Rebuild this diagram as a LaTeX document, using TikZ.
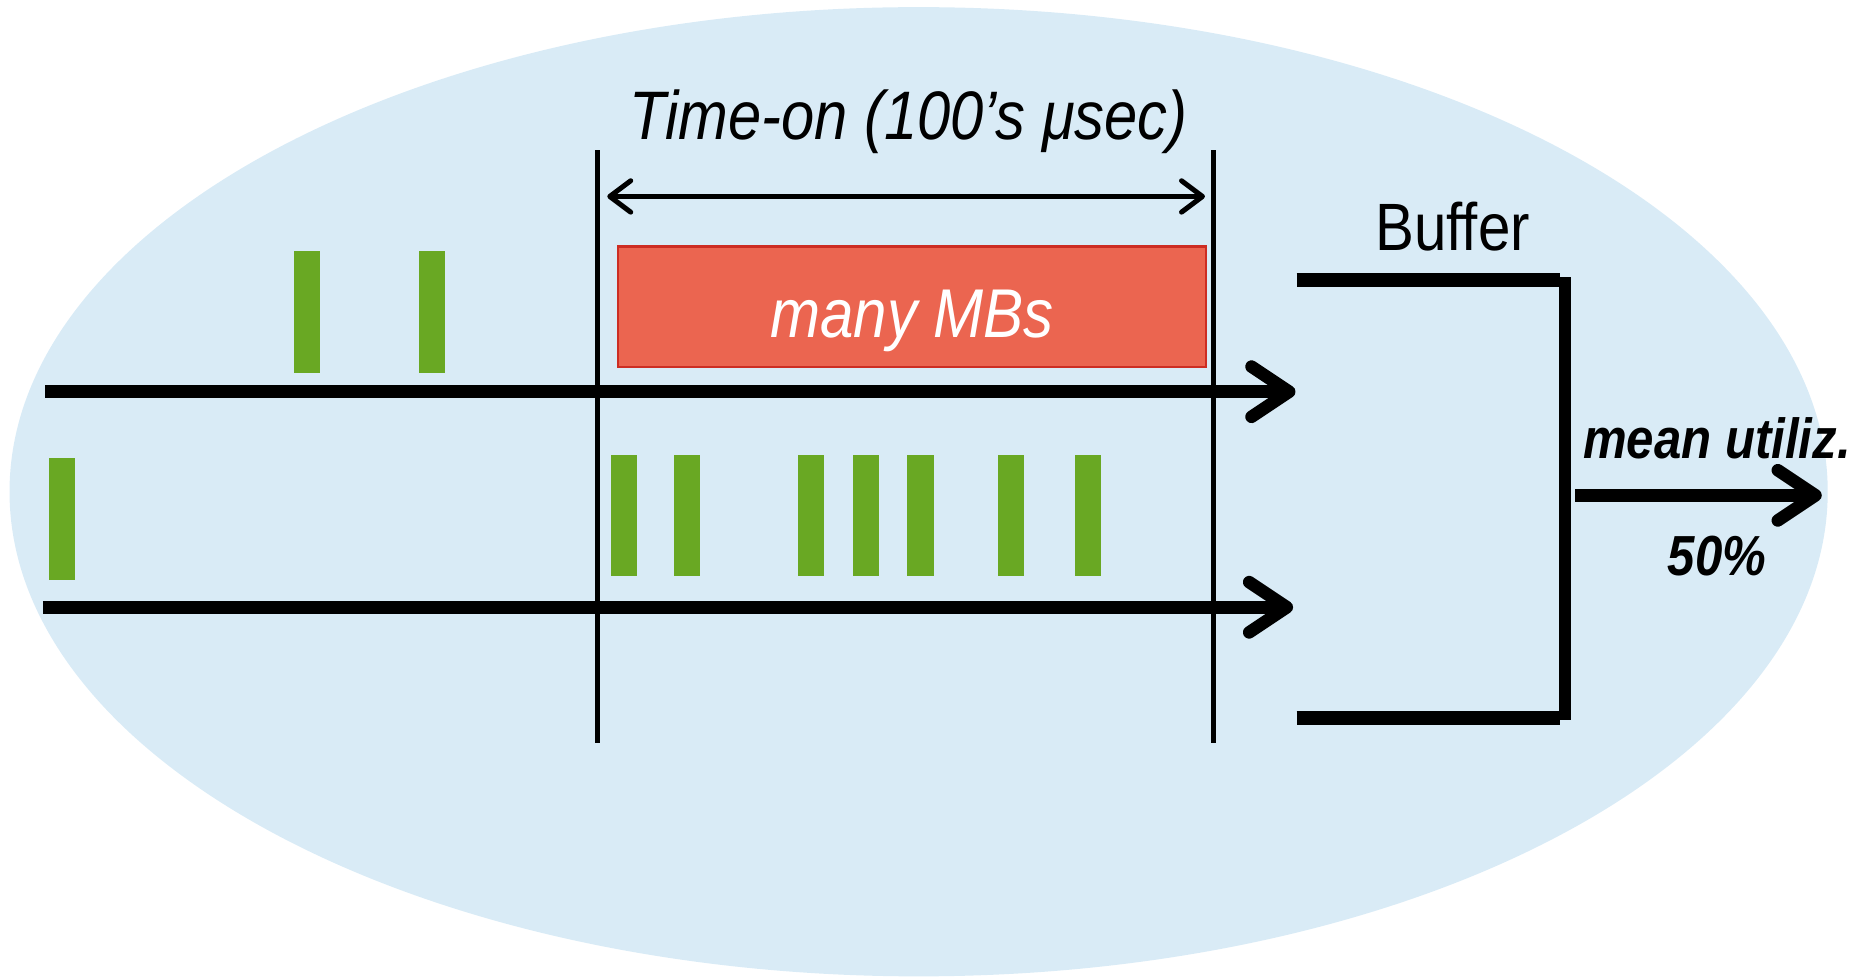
\documentclass[tikz,border=0pt]{standalone}
\usepackage{fontspec}
\setmainfont{Liberation Sans}[FakeStretch=0.87]
\usepackage{tikz}
\usetikzlibrary{arrows.meta, positioning}
\definecolor{bgblue}{RGB}{217,235,246}
\definecolor{pktgreen}{RGB}{105,168,35}
\definecolor{burstred}{RGB}{235,101,80}
\definecolor{burstedge}{RGB}{205,45,35}
\tikzset{
  pkt_bar/.style={rectangle, fill=pktgreen, inner sep=0pt, minimum width=0.22cm, minimum height=1.02cm},
  burst_box/.style={rectangle, draw=burstedge, fill=burstred, line width=0.5pt, inner sep=0pt, minimum width=4.94cm, minimum height=1.01cm, text=white, text depth=0pt, text height=15pt, font=\fontsize{16.5}{18}\selectfont\itshape},
  time_line/.style={-{Straight Barb[length=9pt, width=12pt, round]}, line width=3pt},
  marker_line/.style={-, line width=1.1pt},
  span_arrow/.style={{Straight Barb[length=5pt, width=7.5pt, round]}-{Straight Barb[length=5pt, width=7.5pt, round]}, line width=1.2pt},
  buf_wall/.style={-, line width=3.4pt},
  title_text/.style={font=\fontsize{16.4}{18}\selectfont\itshape},
  buf_text/.style={font=\fontsize{16}{18}\selectfont},
  util_text/.style={font=\fontsize{13.5}{15}\selectfont\bfseries\itshape}
}

\begin{document}
\begin{tikzpicture}
  \useasboundingbox (0,0) rectangle (15.68,8.20);

  % --- 1. Background ---
  \fill[bgblue] (7.715,4.07) ellipse [x radius=7.635cm, y radius=4.07cm];

  % --- 2. Time-on window ---
  \coordinate (on_top) at (5.02,6.94);
  \coordinate (on_bot) at (5.02,1.96);
  \coordinate (off_top) at (10.19,6.94);
  \coordinate (off_bot) at (10.19,1.96);
  \draw[marker_line] (on_top) -- (on_bot);
  \draw[marker_line] (off_top) -- (off_bot);

  \coordinate (span_l) at (5.10,6.55);
  \coordinate (span_r) at (10.12,6.55);
  \draw[span_arrow] (span_l) -- (span_r);
  \node[title_text] (title) at (7.63,7.18) {Time-on (100’s μsec)};

  % Big burst
  \node[burst_box] (burst) at (7.66,5.625) {many MBs};

  % --- 3. Flow 1 (top) ---
  \coordinate (f1_start) at (0.38,4.91);
  \coordinate (f1_end) at (10.88,4.91);
  \draw[time_line] (f1_start) -- (f1_end);
  \node[pkt_bar] (a1) at (2.575,5.58) {};
  \node[pkt_bar] (a2) at (3.625,5.58) {};

  % --- 4. Flow 2 (bottom) ---
  \coordinate (f2_start) at (0.36,3.10);
  \coordinate (f2_end) at (10.86,3.10);
  \draw[time_line] (f2_start) -- (f2_end);
  \node[pkt_bar] (b0) at (0.52,3.84) {};
  \node[pkt_bar] (b1) at (5.24,3.87) {};
  \node[pkt_bar] (b2) at (5.77,3.87) {};
  \node[pkt_bar] (b3) at (6.81,3.87) {};
  \node[pkt_bar] (b4) at (7.27,3.87) {};
  \node[pkt_bar] (b5) at (7.73,3.87) {};
  \node[pkt_bar] (b6) at (8.49,3.87) {};
  \node[pkt_bar] (b7) at (9.14,3.87) {};

  % --- 5. Buffer ---
  \coordinate (buf_tl) at (10.89,5.85);
  \coordinate (buf_tr) at (13.10,5.85);
  \coordinate (buf_bl) at (10.89,2.17);
  \coordinate (buf_br) at (13.10,2.17);
  \coordinate (buf_rt) at (13.14,5.87);
  \coordinate (buf_rb) at (13.14,2.15);
  \draw[buf_wall] (buf_tl) -- (buf_tr);
  \draw[buf_wall] (buf_bl) -- (buf_br);
  \draw[buf_wall, line width=2.9pt] (buf_rt) -- (buf_rb);
  \node[buf_text] (buf_label) at (12.20,6.30) {Buffer};

  % --- 6. Output link ---
  \coordinate (out_start) at (13.23,4.04);
  \coordinate (out_end) at (15.30,4.04);
  \draw[time_line] (out_start) -- (out_end);
  \node[util_text] (util) at (14.42,4.52) {mean utiliz.};
  \node[util_text] (util_val) at (14.42,3.53) {50\%};
\end{tikzpicture}
\end{document}
